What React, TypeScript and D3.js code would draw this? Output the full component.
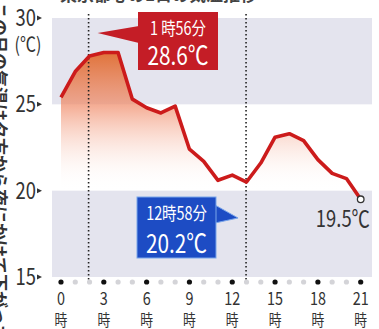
import React, { useRef, useEffect } from 'react'
import * as d3 from 'd3'

// hourly temperature readings (°C), 0時..21時
const hours = [0, 1, 2, 3, 4, 5, 6, 7, 8, 9, 10, 11, 12, 13, 14, 15, 16, 17, 18, 19, 20, 21]
const temps = [25.4, 26.9, 27.8, 28.0, 28.0, 25.3, 24.8, 24.5, 24.9, 22.4, 21.7, 20.6, 20.9, 20.5, 21.6, 23.1, 23.3, 22.9, 21.8, 21.0, 20.7, 19.5]
const yTicks = [15, 20, 25, 30]
const xTicks = [0, 3, 6, 9, 12, 15, 18, 21]
const maxTime = 1 + 56 / 60
const minTime = 12 + 58 / 60
const maxLabel = ['1 時56分', '28.6℃']
const minLabel = ['12時58分', '20.2℃']
const lastLabel = '19.5℃'

const sans = '"Noto Sans CJK JP", "Noto Sans", sans-serif'
const SQ = 0.8 // horizontal squeeze for the condensed look

export default function App() {
    const visEl = useRef<HTMLDivElement>(null)
    const width = 379
    const height = 329

    useEffect(() => {
        const root = d3.select(visEl.current)
        root.selectAll('*').remove()
        const svg = root.append('svg')
            .attr('width', width)
            .attr('height', height)
            .style('display', 'block')
            .style('background', '#fff')

        const x = d3.scaleLinear().domain([0, 21]).range([61, 360.7])
        const y = d3.scaleLinear().domain([15, 30]).range([277, 18])
        const left = 52, right = 372

        // condensed text helper
        const cText = (g: any, tx: number, ty: number, size: number, anchor: string, fill: string, str: string) =>
            g.append('text')
                .attr('transform', `translate(${tx},${ty}) scale(${SQ},1)`)
                .attr('text-anchor', anchor)
                .attr('font-family', sans).attr('font-size', size).attr('fill', fill)
                .text(str)

        // cut-off titles at top and left edge
        svg.append('text')
            .attr('x', 60).attr('y', 1)
            .attr('font-family', sans)
            .attr('font-size', 17).attr('font-weight', 700).attr('fill', '#444')
            .text('東京都心の1日の気温推移')
        svg.append('text')
            .attr('transform', 'translate(-7,2) rotate(90)')
            .attr('font-family', sans)
            .attr('font-size', 17).attr('font-weight', 700).attr('fill', '#333')
            .text('この日の気温は夕方から夜にかけて下がった')

        // shaded bands
        const bands = [[25, 30], [15, 20]]
        svg.selectAll('rect.band').data(bands).enter().append('rect')
            .attr('class', 'band')
            .attr('x', left).attr('width', right - left)
            .attr('y', d => y(d[1])).attr('height', d => y(d[0]) - y(d[1]))
            .attr('fill', '#e4e4ee')

        // gradient fill under the line
        const defs = svg.append('defs')
        const grad = defs.append('linearGradient')
            .attr('id', 'fillGrad')
            .attr('gradientUnits', 'userSpaceOnUse')
            .attr('x1', 0).attr('x2', 0).attr('y1', 50).attr('y2', y(20))
        grad.append('stop').attr('offset', 0).attr('stop-color', '#df6a2c').attr('stop-opacity', 0.95)
        grad.append('stop').attr('offset', 0.4).attr('stop-color', '#f08c6a').attr('stop-opacity', 0.7)
        grad.append('stop').attr('offset', 1).attr('stop-color', '#ffffff').attr('stop-opacity', 0)

        const data = hours.map((h, i) => ({ h, t: temps[i] }))
        const area = d3.area<{ h: number, t: number }>()
            .x(d => x(d.h)).y0(y(20)).y1(d => y(d.t))
        svg.append('path').datum(data)
            .attr('d', area)
            .attr('fill', 'url(#fillGrad)')

        // dotted markers for max/min time
        svg.selectAll('line.mark').data([maxTime, minTime]).enter().append('line')
            .attr('class', 'mark')
            .attr('x1', d => x(d)).attr('x2', d => x(d))
            .attr('y1', 14).attr('y2', 280)
            .attr('stroke', '#222').attr('stroke-width', 1.6)
            .attr('stroke-dasharray', '1.4,2.6')

        const line = d3.line<{ h: number, t: number }>()
            .x(d => x(d.h)).y(d => y(d.t))
        svg.append('path').datum(data)
            .attr('d', line)
            .attr('fill', 'none')
            .attr('stroke', '#cc1b1b')
            .attr('stroke-width', 3.6)
            .attr('stroke-linejoin', 'round')

        const last = data[data.length - 1]
        svg.append('circle')
            .attr('cx', x(last.h)).attr('cy', y(last.t)).attr('r', 3.3)
            .attr('fill', '#fff').attr('stroke', '#333').attr('stroke-width', 1.3)
        cText(svg, 370, 227, 23, 'end', '#333', lastLabel)

        // y axis
        const yg = svg.append('g')
        yTicks.forEach(t => {
            cText(yg, 36, y(t) + 8, 23, 'end', '#333', String(t))
        })
        yg.selectAll('path').data(yTicks).enter().append('path')
            .attr('d', d => `M37,${y(d) - 2.5}L42,${y(d)}L37,${y(d) + 2.5}Z`)
            .attr('fill', '#333')
        cText(yg, 28, 52, 20, 'middle', '#333', '(℃)')

        // x axis dots + labels
        const xg = svg.append('g')
        xg.selectAll('circle').data(hours).enter().append('circle')
            .attr('cx', d => x(d)).attr('cy', 282).attr('r', 2.6)
            .attr('fill', d => d % 3 === 0 ? '#111' : '#d4d4d8')
        xTicks.forEach(t => {
            cText(xg, x(t), 305, 18, 'middle', '#333', String(t))
            cText(xg, x(t), 326, 16, 'middle', '#333', '時')
        })

        // max annotation (red)
        const red = svg.append('g')
        red.append('path')
            .attr('d', `M${x(maxTime) + 9},33L139,26L139,43Z`)
            .attr('fill', '#c41d26')
        red.append('rect')
            .attr('x', 138).attr('y', 12).attr('width', 80).attr('height', 58)
            .attr('fill', '#c41d26')
        cText(red, 178, 35, 18, 'middle', '#fff', maxLabel[0])
        cText(red, 178, 65, 26, 'middle', '#fff', maxLabel[1])

        // min annotation (blue)
        const blue = svg.append('g')
        blue.append('path')
            .attr('d', `M215,205L${x(minTime) - 8},218L215,223Z`)
            .attr('fill', '#1d4cc4').attr('stroke', '#7aa6ea').attr('stroke-width', 1)
        blue.append('rect')
            .attr('x', 137).attr('y', 197).attr('width', 79).attr('height', 61)
            .attr('fill', '#1d4cc4').attr('stroke', '#7aa6ea').attr('stroke-width', 1)
        cText(blue, 176.5, 220, 18, 'middle', '#fff', minLabel[0])
        cText(blue, 176.5, 253, 26, 'middle', '#fff', minLabel[1])
    }, [])

    return (
        <div ref={visEl} style={{ position: 'absolute', left: 0, top: 0 }}></div>
    )
}
